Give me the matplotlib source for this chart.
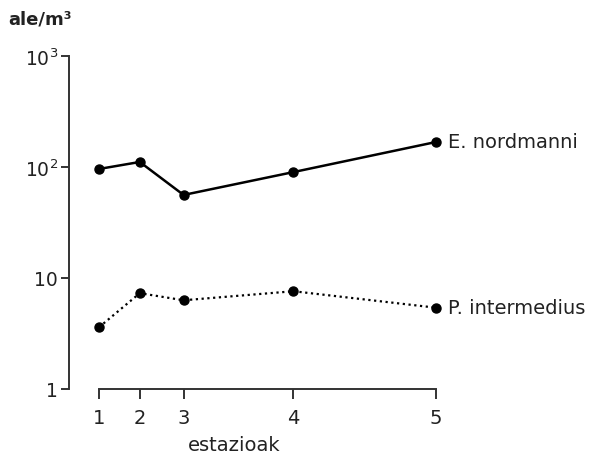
import matplotlib
matplotlib.use("Agg")
import matplotlib.pyplot as plt

# Stations along the sampling transect (relative distance) and their labels
station_pos = [0.0, 1.21, 2.51, 5.77, 10.0]
station_labels = ["1", "2", "3", "4", "5"]

# Densities (individuals per m^3)
e_nordmanni = [96, 111, 56, 90, 168]
p_intermedius = [3.6, 7.3, 6.3, 7.6, 5.4]

series_names = ["E. nordmanni", "P. intermedius"]

y_ticks = [1, 10, 100, 1000]
y_tick_labels = ["1", "10", r"$10^{2}$", r"$10^{3}$"]

W, H, DPI = 608, 456, 100
fig = plt.figure(figsize=(W / DPI, H / DPI), dpi=DPI)
ax = fig.add_axes([99 / W, (H - 390) / H, (436 - 99) / W, (390 - 57) / H])

ax.set_yscale("log")
ax.set_xlim(station_pos[0], station_pos[-1])
ax.set_ylim(y_ticks[0], y_ticks[-1])

ax.plot(station_pos, e_nordmanni, color="black", lw=1.8, ls="-",
        marker="o", ms=6.5, clip_on=False)
ax.plot(station_pos, p_intermedius, color="black", lw=1.6, ls=(0, (1, 1.6)),
        marker="o", ms=6.5, clip_on=False)

for name, vals in zip(series_names, [e_nordmanni, p_intermedius]):
    ax.annotate(name, xy=(station_pos[-1], vals[-1]), xytext=(9, 0),
                textcoords="offset points", ha="left", va="center",
                fontsize=14, color="#222222")

for side in ("top", "right"):
    ax.spines[side].set_visible(False)
ax.spines["left"].set_position(("outward", 21.6))
ax.spines["left"].set_bounds(y_ticks[0], y_ticks[-1])
ax.spines["bottom"].set_bounds(station_pos[0], station_pos[-1])
for side in ("left", "bottom"):
    ax.spines[side].set_linewidth(1.4)
    ax.spines[side].set_color("#333333")

ax.set_yticks(y_ticks)
ax.set_yticklabels(y_tick_labels)
ax.minorticks_off()
ax.set_xticks(station_pos)
ax.set_xticklabels(station_labels)
ax.tick_params(axis="both", direction="out", width=1.4,
               color="#333333", labelcolor="#222222")
ax.tick_params(axis="y", length=6, pad=2, labelsize=13.5)
ax.tick_params(axis="x", length=7, pad=7, labelsize=14)

fig.text(234 / W, 1 - 446 / H, "estazioak", fontsize=14, color="#222222",
         ha="center", va="center")
fig.text(8 / W, 1 - 20 / H, "ale/m³", fontsize=13, fontweight="bold",
         color="#222222", ha="left", va="center")

fig.savefig("out.png", dpi=DPI)
